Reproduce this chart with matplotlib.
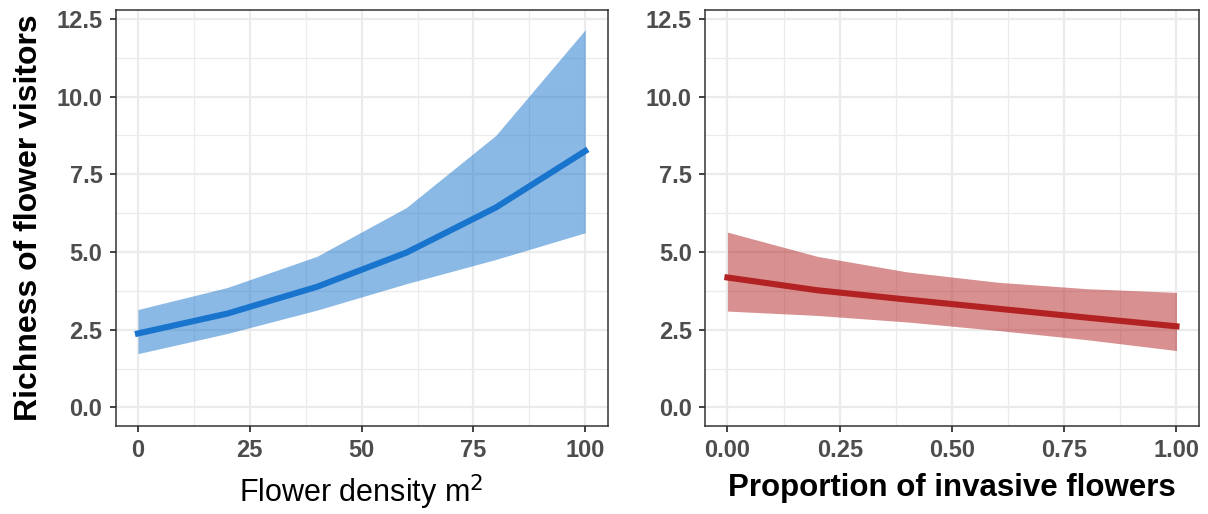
import matplotlib
matplotlib.use("Agg")
import matplotlib.pyplot as plt
import numpy as np

# left panel: flower density
density = [0, 20, 40, 60, 80, 100]
dens_fit = [2.38, 3.02, 3.88, 4.98, 6.43, 8.25]
dens_lo = [1.73, 2.38, 3.13, 3.98, 4.76, 5.62]
dens_hi = [3.15, 3.86, 4.86, 6.43, 8.75, 12.15]

# right panel: proportion of invasive flowers
prop = [0.0, 0.2, 0.4, 0.6, 0.8, 1.0]
prop_fit = [4.18, 3.77, 3.47, 3.18, 2.89, 2.61]
prop_lo = [3.10, 2.96, 2.75, 2.48, 2.18, 1.83]
prop_hi = [5.64, 4.86, 4.36, 4.03, 3.82, 3.70]

y_ticks = [0.0, 2.5, 5.0, 7.5, 10.0, 12.5]
y_labels = ["0.0", "2.5", "5.0", "7.5", "10.0", "12.5"]

tick_font = ["Liberation Sans", "DejaVu Sans"]
label_font = ["Liberation Sans", "DejaVu Sans"]

fig = plt.figure(figsize=(12.08, 5.14), dpi=100)
ax1 = fig.add_axes([0.0957, 0.171, 0.4073, 0.8105])
ax2 = fig.add_axes([0.5836, 0.171, 0.4089, 0.8105])


def style(ax, xt, xl, xlim):
    ax.set_ylim(-0.6, 12.8)
    ax.set_xlim(*xlim)
    ax.set_yticks(y_ticks)
    ax.set_yticklabels(y_labels)
    ax.set_xticks(xt)
    ax.set_xticklabels(xl)
    minor_x = [(a + b) / 2 for a, b in zip(xt[:-1], xt[1:])]
    ax.set_xticks(minor_x, minor=True)
    ax.set_yticks([1.25, 3.75, 6.25, 8.75, 11.25], minor=True)
    ax.grid(which="major", color="#ebebeb", lw=1.6, zorder=0)
    ax.grid(which="minor", color="#ebebeb", lw=0.9, zorder=0)
    ax.set_axisbelow(True)
    ax.tick_params(which="minor", length=0)
    ax.tick_params(which="major", length=4.5, width=1.3, color="#333333",
                   labelcolor="#4d4d4d", pad=5)
    for lab in ax.get_xticklabels() + ax.get_yticklabels():
        lab.set_family(tick_font)
        lab.set_fontweight("bold")
        lab.set_fontsize(17)
    for s in ax.spines.values():
        s.set_color("#333333")
        s.set_linewidth(1.1)


ax1.fill_between(density, dens_lo, dens_hi, color="#1874cd", alpha=0.5, lw=0, zorder=2)
ax1.plot(density, dens_fit, color="#1874cd", lw=4.4, zorder=3)
style(ax1, [0, 25, 50, 75, 100], ["0", "25", "50", "75", "100"], (-5, 105))
ax1.set_xlabel("Flower density m$^2$", family=label_font, fontsize=22, labelpad=7)
ax1.set_ylabel("Richness of flower visitors", family=label_font, fontsize=23,
               fontweight="bold", labelpad=9)

ax2.fill_between(prop, prop_lo, prop_hi, color="#b22222", alpha=0.5, lw=0, zorder=2)
ax2.plot(prop, prop_fit, color="#b22222", lw=4.4, zorder=3)
style(ax2, [0, 0.25, 0.5, 0.75, 1.0], ["0.00", "0.25", "0.50", "0.75", "1.00"], (-0.05, 1.05))
ax2.set_xlabel("Proportion of invasive flowers", family=label_font, fontsize=22.5,
               fontweight="bold", labelpad=8)

fig.savefig("out.png", dpi=100)
